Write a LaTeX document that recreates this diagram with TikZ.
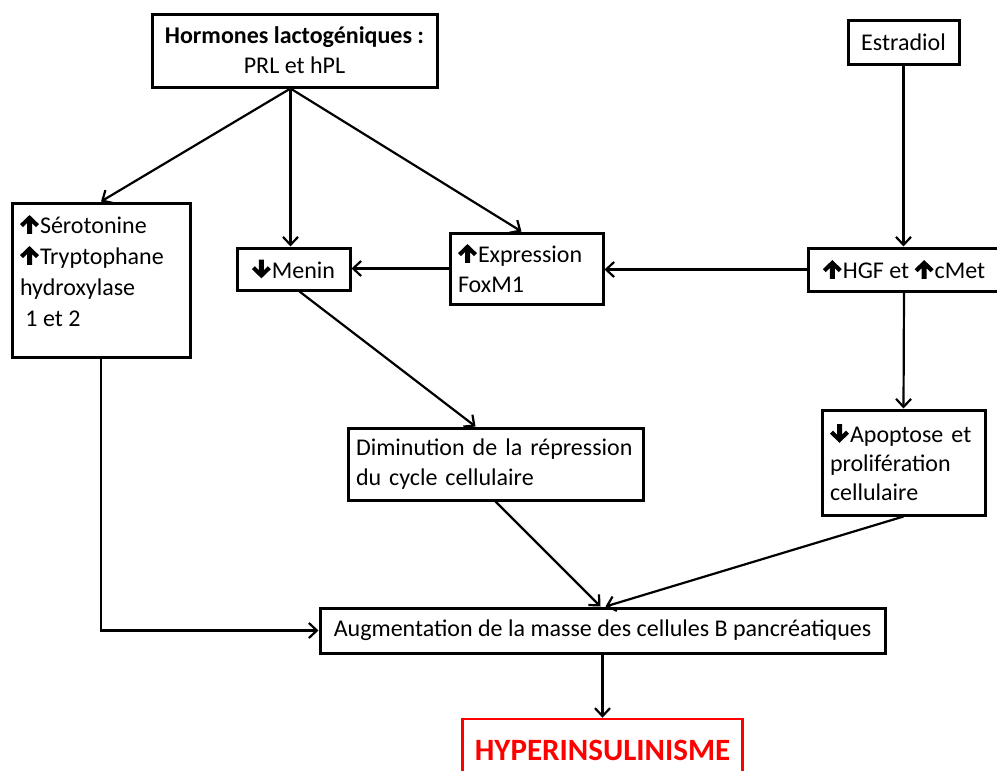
\documentclass[tikz,border=0pt]{standalone}
\usepackage{fontspec}
\setmainfont{Carlito}
\usetikzlibrary{arrows.meta}
\newcommand{\myup}{\tikz[x=1.25pt,y=1.25pt,baseline=0pt]{\fill[black] (5,0) -- (9,0) -- (9,8.5) -- (12.2,5.3) -- (14.6,7.7) -- (7,15) -- (-0.6,7.7) -- (1.8,5.3) -- (5,8.5) -- cycle;}\hspace{1pt}}
\newcommand{\mydn}{\tikz[x=1.25pt,y=1.25pt,baseline=0pt]{\fill[black] (5,15) -- (9,15) -- (9,6.5) -- (12.2,9.7) -- (14.6,7.3) -- (7,0) -- (-0.6,7.3) -- (1.8,9.7) -- (5,6.5) -- cycle;}\hspace{1pt}}
\begin{document}
\begin{tikzpicture}[x=1pt,y=-1pt,
  box/.style={draw, line width=3pt, inner xsep=8pt, inner ysep=0pt, font=\fontsize{24}{30}\selectfont},
  arr/.style={line width=2.2pt, -{Straight Barb[length=8pt,width=15pt,line width=2.2pt]}}]
\useasboundingbox (0,0) rectangle (997,771);
\node[box, minimum width=285pt, minimum height=73pt, align=center] (horm) at (294.5,50.5)
  {\textbf{Hormones lactogéniques :}\\PRL et hPL};
\node[box, minimum width=111pt, minimum height=44pt] (estr) at (903.5,42) {Estradiol};
\node[box, minimum width=178pt, minimum height=154pt] (sero) at (101,280)
  {\parbox[c][150pt][c]{162pt}{\raggedright\baselineskip=31pt
   \myup Sérotonine\\\myup Tryptophane\\hydroxylase\\\ 1 et 2\par\vspace{18pt}}};
\node[box, minimum width=113pt, minimum height=42pt] (menin) at (293.5,269) {\mydn Menin};
\node[box, minimum width=153pt, minimum height=71pt, text width=137pt, align=left] (foxm) at (526.5,268.5)
  {\myup Expression\\FoxM1};
\node[box, minimum width=192pt, minimum height=43pt] (hgf) at (904,269.5) {\myup HGF et \myup cMet};
\node[box, minimum width=295pt, minimum height=72pt, text width=279pt, align=left] (dim) at (495.5,464)
  {Diminution de la répression\\du cycle cellulaire};
\node[box, minimum width=163pt, minimum height=105pt, text width=147pt, align=left, font=\fontsize{24}{29}\selectfont] (apop) at (903.5,462.5)
  {\mydn Apoptose et\\prolifération\\cellulaire};
\node[box, minimum width=565pt, minimum height=45pt] (aug) at (602.5,630.5)
  {Augmentation de la masse des cellules B pancréatiques};
\node[draw=red, line width=2.5pt, minimum width=280pt, minimum height=62pt, text=red, font=\fontsize{31}{34}\selectfont\bfseries] (hyper) at (602.5,750)
  {HYPERINSULINISME};

\draw[arr] ([xshift=-4pt]horm.south) -- (sero.north);
\draw[arr] ([xshift=-4pt]horm.south) -- ([xshift=-4pt]horm.south |- menin.north);
\draw[arr] ([xshift=-4pt]horm.south) -- ([xshift=-5pt]foxm.north);
\draw[arr] (estr.south) -- (estr.south |- hgf.north);
\draw[arr] (hgf.west) -- (hgf.west -| foxm.east);
\draw[arr] (foxm.west) -- (foxm.west -| menin.east);
\draw[arr] ([xshift=6pt]menin.south) -- ([xshift=-20pt]dim.north);
\draw[arr] (hgf.south) -- (apop.north);
\draw[arr] (dim.south) -- ([xshift=-2pt]aug.north);
\draw[arr] (apop.south) -- ([xshift=3pt]aug.north);
\draw[arr] (sero.south) |- (aug.west);
\draw[arr] (aug.south) -- (hyper.north);
\end{tikzpicture}
\end{document}
